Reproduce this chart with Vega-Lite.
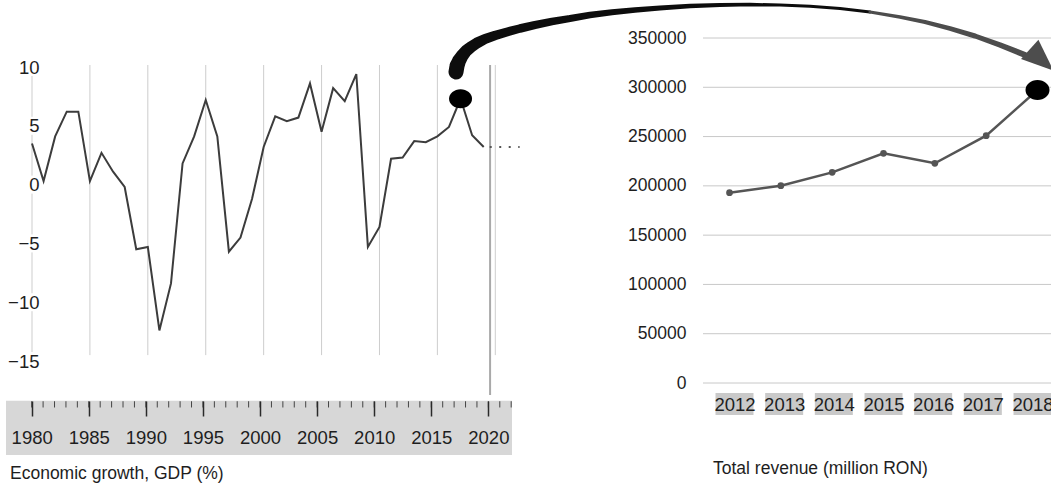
{
  "$schema": "https://vega.github.io/schema/vega-lite/v6.json",
  "width": 1051,
  "height": 484,
  "autosize": "none",
  "padding": 0,
  "background": "white",
  "config": {"view": {"stroke": null}},
  "datasets": {
    "gdp": [
      {"year":1980,"g":3.5},{"year":1981,"g":0.3},{"year":1982,"g":4.1},{"year":1983,"g":6.2},
      {"year":1984,"g":6.2},{"year":1985,"g":0.3},{"year":1986,"g":2.7},{"year":1987,"g":1.1},
      {"year":1988,"g":-0.2},{"year":1989,"g":-5.5},{"year":1990,"g":-5.3},{"year":1991,"g":-12.4},
      {"year":1992,"g":-8.4},{"year":1993,"g":1.8},{"year":1994,"g":4.1},{"year":1995,"g":7.2},
      {"year":1996,"g":4.1},{"year":1997,"g":-5.7},{"year":1998,"g":-4.5},{"year":1999,"g":-1.2},
      {"year":2000,"g":3.2},{"year":2001,"g":5.8},{"year":2002,"g":5.4},{"year":2003,"g":5.7},
      {"year":2004,"g":8.6},{"year":2005,"g":4.5},{"year":2006,"g":8.2},{"year":2007,"g":7.1},
      {"year":2008,"g":9.4},{"year":2009,"g":-5.3},{"year":2010,"g":-3.6},{"year":2011,"g":2.2},
      {"year":2012,"g":2.3},{"year":2013,"g":3.7},{"year":2014,"g":3.6},{"year":2015,"g":4.1},
      {"year":2016,"g":4.9},{"year":2017,"g":7.3},{"year":2018,"g":4.2},{"year":2019,"g":3.2}
    ],
    "gdp_outlook": [{"year":2019,"g":3.2},{"year":2022.1,"g":3.2}],
    "grid_years": [{"year":1980},{"year":1985},{"year":1990},{"year":1995},{"year":2000},{"year":2005},{"year":2010},{"year":2015},{"year":2020}],
    "gdp_ticks": [{"v":-15},{"v":-10},{"v":-5},{"v":0},{"v":5},{"v":10}],
    "all_years": [
      {"year":1980},{"year":1981},{"year":1982},{"year":1983},{"year":1984},{"year":1985},{"year":1986},{"year":1987},
      {"year":1988},{"year":1989},{"year":1990},{"year":1991},{"year":1992},{"year":1993},{"year":1994},{"year":1995},
      {"year":1996},{"year":1997},{"year":1998},{"year":1999},{"year":2000},{"year":2001},{"year":2002},{"year":2003},
      {"year":2004},{"year":2005},{"year":2006},{"year":2007},{"year":2008},{"year":2009},{"year":2010},{"year":2011},
      {"year":2012},{"year":2013},{"year":2014},{"year":2015},{"year":2016},{"year":2017},{"year":2018},{"year":2019},
      {"year":2020},{"year":2021},{"year":2022}
    ],
    "revenue": [
      {"year":2012,"r":193100},{"year":2013,"r":200200},{"year":2014,"r":213700},{"year":2015,"r":233000},
      {"year":2016,"r":222900},{"year":2017,"r":250900},{"year":2018,"r":297200}
    ],
    "rev_ticks": [{"v":0},{"v":50000},{"v":100000},{"v":150000},{"v":200000},{"v":250000},{"v":300000},{"v":350000}],
    "arrow": [
      {"k":1,"ax":2006.672,"ay":315506,"w":15},
      {"k":2,"ax":2006.692,"ay":321593,"w":15},
      {"k":3,"ax":2006.730,"ay":326666,"w":14},
      {"k":4,"ax":2006.789,"ay":331738,"w":13},
      {"k":5,"ax":2006.867,"ay":336811,"w":12},
      {"k":6,"ax":2006.964,"ay":340869,"w":11.5},
      {"k":7,"ax":2007.081,"ay":344927,"w":11},
      {"k":8,"ax":2007.237,"ay":348985,"w":10},
      {"k":9,"ax":2007.432,"ay":352535,"w":9.5},
      {"k":10,"ax":2007.666,"ay":356086,"w":9},
      {"k":11,"ax":2007.919,"ay":359637,"w":8.5},
      {"k":12,"ax":2008.211,"ay":363187,"w":8},
      {"k":13,"ax":2008.542,"ay":366738,"w":7.5},
      {"k":14,"ax":2008.893,"ay":369782,"w":7},
      {"k":15,"ax":2009.282,"ay":373332,"w":6.5},
      {"k":16,"ax":2009.711,"ay":376071,"w":6},
      {"k":17,"ax":2010.159,"ay":378405,"w":5.5},
      {"k":18,"ax":2010.646,"ay":380434,"w":5},
      {"k":19,"ax":2011.231,"ay":382463,"w":4.5},
      {"k":20,"ax":2011.815,"ay":383477,"w":4},
      {"k":21,"ax":2012.399,"ay":383883,"w":3.5},
      {"k":22,"ax":2012.984,"ay":383477,"w":3},
      {"k":23,"ax":2013.568,"ay":382158,"w":3},
      {"k":24,"ax":2014.153,"ay":379927,"w":3},
      {"k":25,"ax":2014.737,"ay":376376,"w":3},
      {"k":26,"ax":2015.321,"ay":371303,"w":3.5},
      {"k":27,"ax":2015.808,"ay":366231,"w":4},
      {"k":28,"ax":2016.296,"ay":359637,"w":4.5},
      {"k":29,"ax":2016.783,"ay":352028,"w":5},
      {"k":30,"ax":2017.270,"ay":342898,"w":5.5},
      {"k":31,"ax":2017.757,"ay":332753,"w":6}
    ]
  },
  "resolve": {"scale": {"x": "independent", "y": "independent", "size": "independent"}},
  "layer": [
    {
      "data": {"name": "grid_years"},
      "mark": {"type": "rule", "color": "#cdcdcd", "strokeWidth": 1},
      "encoding": {
        "x": {"field": "year", "type": "quantitative", "scale": {"domain": [1980, 2020], "range": [32, 495.3], "zero": false, "nice": false}, "axis": null},
        "y": {"datum": 10.17, "type": "quantitative", "scale": {"domain": [-15, 10], "range": [361, 67], "zero": false, "nice": false}, "axis": null},
        "y2": {"datum": -14.5}
      }
    },
    {
      "data": {"values": [{}]},
      "mark": {"type": "rule", "color": "#a9a9a9", "strokeWidth": 2},
      "encoding": {
        "x": {"datum": 2019.55, "type": "quantitative", "scale": {"domain": [1980, 2020], "range": [32, 495.3], "zero": false, "nice": false}, "axis": null},
        "y": {"datum": 10.17, "type": "quantitative", "scale": {"domain": [-15, 10], "range": [361, 67], "zero": false, "nice": false}, "axis": null},
        "y2": {"datum": -17.9}
      }
    },
    {
      "data": {"name": "gdp_ticks"},
      "mark": {"type": "point", "shape": "square", "filled": true, "color": "white", "opacity": 1, "size": 324},
      "encoding": {
        "x": {"datum": 1980, "type": "quantitative", "scale": {"domain": [1980, 2020], "range": [32, 495.3], "zero": false, "nice": false}, "axis": null},
        "y": {"field": "v", "type": "quantitative", "scale": {"domain": [-15, 10], "range": [361, 67], "zero": false, "nice": false}, "axis": null}
      }
    },
    {
      "data": {"name": "gdp"},
      "mark": {"type": "line", "color": "#3c3c3c", "strokeWidth": 2},
      "encoding": {
        "x": {"field": "year", "type": "quantitative", "scale": {"domain": [1980, 2020], "range": [32, 495.3], "zero": false, "nice": false}, "axis": null},
        "y": {
          "field": "g", "type": "quantitative",
          "scale": {"domain": [-15, 10], "range": [361, 67], "zero": false, "nice": false},
          "axis": {
            "orient": "left", "offset": -39, "values": [-15, -10, -5, 0, 5, 10], "format": "d",
            "title": null, "domain": false, "ticks": false, "grid": false, "labelPadding": 0,
            "labelFont": "Liberation Sans Narrow, Liberation Sans, sans-serif", "labelFontSize": 18.5,
            "labelColor": "#1e1e1e", "labelFlush": false, "labelOverlap": false, "zindex": 1
          }
        }
      }
    },
    {
      "data": {"name": "gdp_outlook"},
      "mark": {"type": "line", "color": "#555555", "strokeWidth": 2, "strokeDash": [2, 7.5], "strokeDashOffset": -6},
      "encoding": {
        "x": {"field": "year", "type": "quantitative", "scale": {"domain": [1980, 2020], "range": [32, 495.3], "zero": false, "nice": false}, "axis": null},
        "y": {"field": "g", "type": "quantitative", "scale": {"domain": [-15, 10], "range": [361, 67], "zero": false, "nice": false}, "axis": null}
      }
    },
    {
      "data": {"name": "gdp"},
      "transform": [{"filter": "datum.year == 2017"}],
      "mark": {"type": "point", "filled": true, "color": "#000000", "opacity": 1, "size": 529,
        "shape": "M -1 0 C -1 -0.4584 -0.5523 -0.83 0 -0.83 C 0.5523 -0.83 1 -0.4584 1 0 C 1 0.4584 0.5523 0.83 0 0.83 C -0.5523 0.83 -1 0.4584 -1 0 Z"},
      "encoding": {
        "x": {"field": "year", "type": "quantitative", "scale": {"domain": [1980, 2020], "range": [32, 495.3], "zero": false, "nice": false}, "axis": null},
        "y": {"field": "g", "type": "quantitative", "scale": {"domain": [-15, 10], "range": [361, 67], "zero": false, "nice": false}, "axis": null}
      }
    },
    {
      "data": {"values": [{}]},
      "mark": {"type": "rect", "color": "#d7d7d7"},
      "encoding": {
        "x": {
          "datum": 1977.75, "type": "quantitative",
          "scale": {"domain": [1977.75, 2022.07], "range": [6, 512], "zero": false, "nice": false},
          "axis": {
            "orient": "bottom", "offset": -83, "values": [1980, 1985, 1990, 1995, 2000, 2005, 2010, 2015, 2020], "format": "d",
            "title": null, "domain": false, "grid": false, "ticks": true, "tickSize": 15, "tickWidth": 1.5, "tickColor": "#2a2a2a",
            "labelPadding": 12, "labelFont": "Liberation Sans Narrow, Liberation Sans, sans-serif", "labelFontSize": 18.5,
            "labelColor": "#1e1e1e", "labelFlush": false, "labelOverlap": false, "zindex": 1
          }
        },
        "x2": {"datum": 2022.07},
        "y": {"datum": 0, "type": "quantitative", "scale": {"domain": [0, 1], "range": [455, 400.7], "zero": false, "nice": false}, "axis": null},
        "y2": {"datum": 1}
      }
    },
    {
      "data": {"name": "all_years"},
      "mark": {"type": "rule", "color": "#444444", "strokeWidth": 1},
      "encoding": {
        "x": {"field": "year", "type": "quantitative", "scale": {"domain": [1977.75, 2022.07], "range": [6, 512], "zero": false, "nice": false}, "axis": null},
        "y": {"datum": 0.99, "type": "quantitative", "scale": {"domain": [0, 1], "range": [455, 400.7], "zero": false, "nice": false}, "axis": null},
        "y2": {"datum": 0.875}
      }
    },
    {
      "data": {"values": [{"t": "Economic growth, GDP (%)"}]},
      "mark": {"type": "text", "align": "left", "baseline": "alphabetic", "font": "Liberation Sans, sans-serif", "fontSize": 17.5, "color": "#1e1e1e"},
      "encoding": {
        "text": {"field": "t"},
        "x": {"datum": 1978.1, "type": "quantitative", "scale": {"domain": [1977.75, 2022.07], "range": [6, 512], "zero": false, "nice": false}, "axis": null},
        "y": {"datum": -0.442, "type": "quantitative", "scale": {"domain": [0, 1], "range": [455, 400.7], "zero": false, "nice": false}, "axis": null}
      }
    },
    {
      "data": {"name": "rev_ticks"},
      "mark": {"type": "rule", "color": "#c8c8c8", "strokeWidth": 1},
      "encoding": {
        "x": {"datum": 2011.484, "type": "quantitative", "scale": {"domain": [2012, 2018], "range": [729.5, 1037.5], "zero": false, "nice": false}, "axis": null},
        "x2": {"datum": 2018.3},
        "y": {"field": "v", "type": "quantitative", "scale": {"domain": [0, 350000], "range": [383, 38], "zero": false, "nice": false}, "axis": null}
      }
    },
    {
      "data": {"name": "revenue"},
      "mark": {"type": "bar", "color": "#c9c9c9", "size": 38},
      "encoding": {
        "x": {
          "field": "year", "type": "quantitative",
          "scale": {"domain": [2012, 2018], "range": [729.5, 1037.5], "zero": false, "nice": false},
          "axis": {
            "orient": "bottom", "offset": -80, "values": [2012, 2013, 2014, 2015, 2016, 2017, 2018], "format": "d",
            "title": null, "domain": false, "grid": false, "ticks": false, "tickSize": 0, "labelPadding": 0,
            "labelBaseline": "middle", "labelFont": "Liberation Sans Narrow, Liberation Sans, sans-serif", "labelFontSize": 18.5,
            "labelColor": "#1e1e1e", "labelFlush": false, "labelOverlap": false, "zindex": 1
          }
        },
        "y": {"datum": 0, "type": "quantitative", "scale": {"domain": [0, 1], "range": [415, 393], "zero": false, "nice": false}, "axis": null},
        "y2": {"datum": 1}
      }
    },
    {
      "data": {"values": [{"t": "Total revenue (million RON)"}]},
      "mark": {"type": "text", "align": "left", "baseline": "alphabetic", "font": "Liberation Sans, sans-serif", "fontSize": 17.5, "color": "#1e1e1e"},
      "encoding": {
        "text": {"field": "t"},
        "x": {"datum": 2011.679, "type": "quantitative", "scale": {"domain": [2012, 2018], "range": [729.5, 1037.5], "zero": false, "nice": false}, "axis": null},
        "y": {"datum": -2.66, "type": "quantitative", "scale": {"domain": [0, 1], "range": [415, 393], "zero": false, "nice": false}, "axis": null}
      }
    },
    {
      "data": {"name": "revenue"},
      "mark": {"type": "line", "color": "#555555", "strokeWidth": 2.5,
        "point": {"filled": true, "size": 45, "color": "#555555", "opacity": 1}},
      "encoding": {
        "x": {"field": "year", "type": "quantitative", "scale": {"domain": [2012, 2018], "range": [729.5, 1037.5], "zero": false, "nice": false}, "axis": null},
        "y": {
          "field": "r", "type": "quantitative",
          "scale": {"domain": [0, 350000], "range": [383, 38], "zero": false, "nice": false},
          "axis": {
            "orient": "left", "offset": -686, "values": [0, 50000, 100000, 150000, 200000, 250000, 300000, 350000], "format": "d",
            "title": null, "domain": false, "ticks": false, "grid": false, "labelPadding": 0,
            "labelFont": "Liberation Sans, sans-serif", "labelFontSize": 17.5,
            "labelColor": "#1e1e1e", "labelFlush": false, "labelOverlap": false, "zindex": 1
          }
        }
      }
    },
    {
      "data": {"name": "revenue"},
      "transform": [{"filter": "datum.year == 2018"}],
      "mark": {"type": "point", "filled": true, "color": "#000000", "opacity": 1, "size": 576,
        "shape": "M -1 0 C -1 -0.4584 -0.5523 -0.83 0 -0.83 C 0.5523 -0.83 1 -0.4584 1 0 C 1 0.4584 0.5523 0.83 0 0.83 C -0.5523 0.83 -1 0.4584 -1 0 Z"},
      "encoding": {
        "x": {"field": "year", "type": "quantitative", "scale": {"domain": [2012, 2018], "range": [729.5, 1037.5], "zero": false, "nice": false}, "axis": null},
        "y": {"field": "r", "type": "quantitative", "scale": {"domain": [0, 350000], "range": [383, 38], "zero": false, "nice": false}, "axis": null}
      }
    },
    {
      "data": {"name": "arrow"},
      "transform": [{"filter": "datum.k <= 25"}],
      "mark": {"type": "trail", "color": "#0d0d0d"},
      "encoding": {
        "x": {"field": "ax", "type": "quantitative", "scale": {"domain": [2012, 2018], "range": [729.5, 1037.5], "zero": false, "nice": false}, "axis": null},
        "y": {"field": "ay", "type": "quantitative", "scale": {"domain": [0, 350000], "range": [383, 38], "zero": false, "nice": false}, "axis": null},
        "size": {"field": "w", "type": "quantitative", "scale": {"domain": [0, 20], "range": [0, 20]}, "legend": null},
        "order": {"field": "k", "type": "quantitative"}
      }
    },
    {
      "data": {"name": "arrow"},
      "transform": [{"filter": "datum.k >= 25"}],
      "mark": {"type": "trail", "color": "#4d4d4d"},
      "encoding": {
        "x": {"field": "ax", "type": "quantitative", "scale": {"domain": [2012, 2018], "range": [729.5, 1037.5], "zero": false, "nice": false}, "axis": null},
        "y": {"field": "ay", "type": "quantitative", "scale": {"domain": [0, 350000], "range": [383, 38], "zero": false, "nice": false}, "axis": null},
        "size": {"field": "w", "type": "quantitative", "scale": {"domain": [0, 20], "range": [0, 20]}, "legend": null},
        "order": {"field": "k", "type": "quantitative"}
      }
    },
    {
      "data": {"values": [{}]},
      "mark": {"type": "point", "filled": true, "color": "#4d4d4d", "opacity": 1, "size": 1024, "angle": 42,
        "shape": "M -1 -0.8125 L 1 0 L -1 0.8125 Z"},
      "encoding": {
        "x": {"datum": 2018.08, "type": "quantitative", "scale": {"domain": [2012, 2018], "range": [729.5, 1037.5], "zero": false, "nice": false}, "axis": null},
        "y": {"datum": 327680, "type": "quantitative", "scale": {"domain": [0, 350000], "range": [383, 38], "zero": false, "nice": false}, "axis": null}
      }
    }
  ]
}
